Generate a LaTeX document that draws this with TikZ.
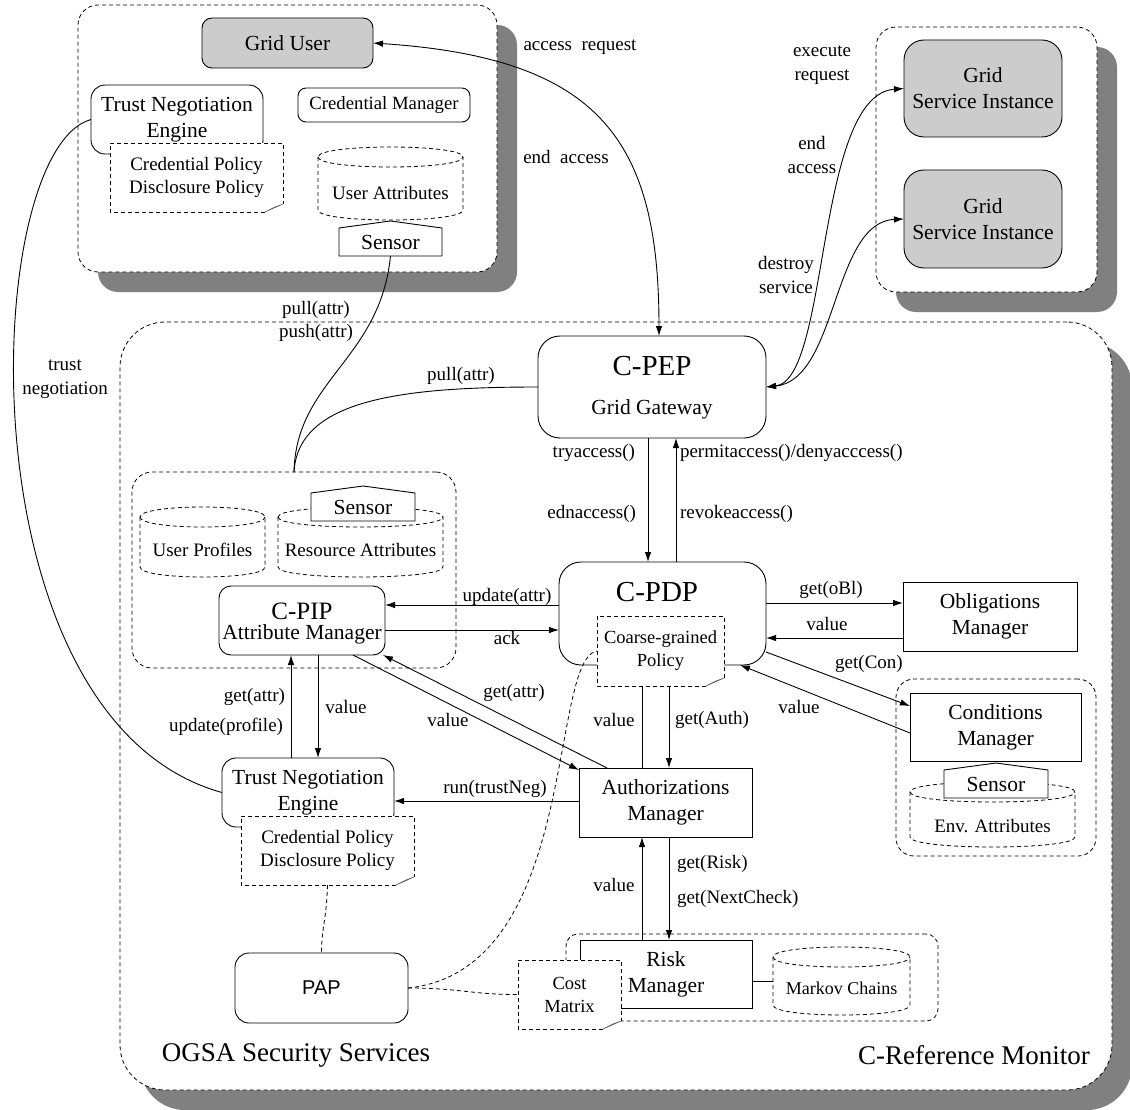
\documentclass[tikz,border=0pt]{standalone}
\usepackage{fontspec}
\setmainfont{Liberation Serif}
\newfontfamily\papfont{Liberation Sans}
\usetikzlibrary{arrows.meta}
\newcommand{\fBox}{\fontsize{21.5}{26}\selectfont}
\newcommand{\fLab}{\fontsize{19}{23.5}\selectfont}
\newcommand{\fSm}{\fontsize{18.5}{23}\selectfont}
\newcommand{\fBig}{\fontsize{29}{32}\selectfont}
\newcommand{\fPip}{\fontsize{25}{28}\selectfont}
\newcommand{\fTtl}{\fontsize{27}{30}\selectfont}
\newcommand{\fPap}{\papfont\fontsize{20}{24}\selectfont}
\tikzset{
 ln/.style={line width=0.9pt},
 dsh/.style={line width=0.8pt, dash pattern=on 4pt off 3pt},
 arr/.style={ln, -{Latex[length=10pt,width=6.5pt]}},
 darr/.style={ln, {Latex[length=10pt,width=6.5pt]}-{Latex[length=10pt,width=6.5pt]}},
 rbox/.style={draw, ln, fill=white, align=center, font=\fBox},
 sbox/.style={draw, ln, fill=white, align=center, font=\fBox},
 grp/.style={draw, dsh, fill=white},
 docn/.style={fill=white, align=center, font=\fLab},
 cyln/.style={},
 sensn/.style={fill=white, font=\fBox},
 lab/.style={font=\fLab, align=center},
 shd/.style={fill=black!50},
 fold/.style={fill=gray!45, draw=black!70, line width=0.5pt},
}
\newcommand{\docfold}[1]{%
 \draw[dsh] ([xshift=-18pt]#1.south east) -- (#1.south west) -- (#1.north west) -- (#1.north east) -- ([yshift=8pt]#1.south east);
 \filldraw[fold] ([xshift=-18pt]#1.south east) -- ([yshift=8pt]#1.south east) -- ([xshift=-8pt,yshift=5pt]#1.south east) -- cycle;}
\newcommand{\cylout}[2]{%
 \draw[dsh] ([yshift=-#2pt]#1.north west) -- ([yshift=#2pt]#1.south west) .. controls +(0,{1.333*#2}) and +(0,{1.333*#2}) .. ([yshift=#2pt]#1.south east) -- ([yshift=-#2pt]#1.north east) .. controls +(0,{-1.333*#2}) and +(0,{-1.333*#2}) .. ([yshift=-#2pt]#1.north west);
 \draw[dsh] ([yshift=-#2pt]#1.north west) .. controls +(0,{1.333*#2}) and +(0,{1.333*#2}) .. ([yshift=-#2pt]#1.north east);}
\newcommand{\sensout}[1]{%
 \draw[ln] (#1.south west) -- (#1.north west) -- ([yshift=7pt]#1.north) -- (#1.north east) -- (#1.south east) -- cycle;}
\begin{document}
\begin{tikzpicture}[x=1pt,y=-1pt, every node/.style={inner sep=0pt, outer sep=0pt}]
\useasboundingbox (0,0) rectangle (1130,1110);
\fill[white] (0,0) rectangle (1130,1110);
% shadows
\fill[shd, rounded corners=20pt] (98,25) rectangle (517,292);
\fill[shd, rounded corners=20pt] (896,47) rectangle (1117,312);
\fill[shd, rounded corners=45pt] (140,342) rectangle (1132,1110);
% containers
\node[grp, rounded corners=20pt, minimum width=419pt, minimum height=267pt] (userbox) at (287.5,138.5) {};
\node[grp, rounded corners=20pt, minimum width=221pt, minimum height=265pt] (svcbox) at (986.5,159.5) {};
\node[grp, rounded corners=45pt, minimum width=992pt, minimum height=768pt] (ogsa) at (616,706) {};
\node[grp, rounded corners=20pt, minimum width=324pt, minimum height=196pt] (pipg) at (294,570) {};
\node[grp, rounded corners=18pt, minimum width=200pt, minimum height=177pt] (condg) at (996,767.5) {};
\node[grp, rounded corners=12pt, minimum width=372pt, minimum height=87pt] (riskg) at (752,977.5) {};
% user side
\node[rbox, fill=gray!40, rounded corners=10pt, minimum width=171pt, minimum height=50pt] (gu) at (287.5,43) {Grid User};
\node[rbox, rounded corners=14pt, minimum width=172pt, minimum height=69pt] (tneA) at (177,119.5) {Trust Negotiation\\Engine};
\node[docn, minimum width=173pt, minimum height=69pt] (polA) at (196.5,177.5) {Credential Policy\\Disclosure Policy};
\docfold{polA}
\node[rbox, rounded corners=8pt, minimum width=172pt, minimum height=34pt, font=\fontsize{18.7}{22}\selectfont] (cm) at (384,105) {Credential Manager};
\node[cyln, minimum width=145pt, minimum height=73pt] (uaC) at (390.5,183.5) {};
\cylout{uaC}{10}
\node[font=\fLab] (ua) at (390.5,193) {User Attributes};
\node[sensn, minimum width=103pt, minimum height=28pt] (sensA) at (390.5,242) {Sensor};
\sensout{sensA}
% services
\node[rbox, fill=gray!40, rounded corners=20pt, minimum width=158pt, minimum height=97pt] (gsiA) at (983,88.5) {Grid\\Service Instance};
\node[rbox, fill=gray!40, rounded corners=20pt, minimum width=158pt, minimum height=98pt] (gsiB) at (983,219) {Grid\\Service Instance};
% PEP
\node[rbox, rounded corners=22pt, minimum width=228pt, minimum height=102pt] (pep) at (652,387) {};
\node[font=\fBig] (pepT) at (652,366) {C-PEP};
\node[font=\fBox] (pepG) at (652,409) {Grid Gateway};
% PDP
\node[rbox, rounded corners=22pt, minimum width=207pt, minimum height=103pt] (pdp) at (662.5,613.5) {};
\node[font=\fBig] (pdpT) at (657,592) {C-PDP};
\node[docn, font=\fSm, minimum width=127pt, minimum height=70pt] (cgp) at (660.5,651) {Coarse-grained\\Policy};
\docfold{cgp}
% PIP group
\node[cyln, minimum width=125pt, minimum height=70pt] (upC) at (202.5,542) {};
\cylout{upC}{10}
\node[font=\fLab] (up) at (202.5,550) {User Profiles};
\node[cyln, minimum width=165pt, minimum height=70pt] (raC) at (360.5,542) {};
\cylout{raC}{10}
\node[font=\fLab] (ra) at (360.5,550) {Resource Attributes};
\node[sensn, minimum width=104pt, minimum height=28pt] (sensB) at (363,507) {Sensor};
\sensout{sensB}
\node[rbox, rounded corners=12pt, minimum width=166pt, minimum height=69pt] (pip) at (302,620.5) {};
\node[font=\fPip] (pipT) at (302,611) {C-PIP};
\node[font=\fBox] (pipA) at (302,634) {Attribute Manager};
% obligations / conditions
\node[sbox, minimum width=174pt, minimum height=69pt] (ob) at (990,616.5) {Obligations\\Manager};
\node[sbox, minimum width=171pt, minimum height=68pt] (cond) at (995.5,727) {Conditions\\Manager};
\node[cyln, minimum width=165pt, minimum height=65pt] (envC) at (992.5,814.5) {};
\cylout{envC}{10}
\node[font=\fLab] (env) at (992.5,826) {Env. Attributes};
\node[sensn, minimum width=104pt, minimum height=28pt] (sensC) at (996,784) {Sensor};
\sensout{sensC}
% authorization, TNE, risk, PAP
\node[sbox, minimum width=173pt, minimum height=69pt] (auth) at (665.5,802.5) {Authorizations\\Manager};
\node[rbox, rounded corners=14pt, minimum width=172pt, minimum height=69pt] (tneB) at (308,792.5) {Trust Negotiation\\Engine};
\node[docn, minimum width=173pt, minimum height=69pt] (polB) at (327.5,850.5) {Credential Policy\\Disclosure Policy};
\docfold{polB}
\node[sbox, minimum width=172pt, minimum height=68pt] (risk) at (666,974) {Risk\\Manager};
\node[cyln, minimum width=137pt, minimum height=68pt] (mcC) at (841.5,981) {};
\cylout{mcC}{10}
\node[font=\fontsize{18}{22}\selectfont] (mc) at (841.5,988) {Markov Chains};
\node[docn, font=\fSm, minimum width=103pt, minimum height=69pt] (cost) at (569.5,994.5) {Cost\\Matrix};
\docfold{cost}
\node[rbox, rounded corners=14pt, minimum width=173pt, minimum height=70pt, font=\fPap] (pap) at (321.5,988) {PAP};
% connectors
\draw[darr] (gu.east) .. controls (600,58) and (659,140) .. ([xshift=7pt]pep.north);
\draw[darr] (pep.east) .. controls (830,380) and (815,95) .. (gsiA.west);
\draw[darr] (pep.east) .. controls (838,380) and (832,222) .. (gsiB.west);
\draw[arr] ([xshift=-4pt]pep.south) -- ([xshift=-14.5pt]pdp.north);
\draw[arr] ([xshift=13.5pt]pdp.north) -- ([xshift=24pt]pep.south);
\draw[arr] ([yshift=8.5pt]pdp.west) -- ([yshift=15.5pt]pip.east);
\draw[arr] ([yshift=-9.5pt]pip.east) -- ([yshift=-16.5pt]pdp.west);
\draw[arr] ([yshift=10.5pt]pdp.east) -- ([yshift=13.5pt]ob.west);
\draw[arr] ([yshift=-21.5pt]ob.west) -- ([yshift=-24.5pt]pdp.east);
\draw[arr] ([yshift=-38.5pt]pdp.east) -- ([yshift=21pt]cond.west);
\draw[arr] ([yshift=-6pt]cond.west) -- ([xshift=-26pt]pdp.south east);
\draw[ln] ([xshift=-23.5pt]auth.north) -- ([xshift=-18.5pt]cgp.south);
\draw[arr] ([xshift=8.5pt]cgp.south) -- ([xshift=3.5pt]auth.north);
\draw[arr] ([xshift=-58.5pt]auth.north) -- ([xshift=-2pt]pip.south east);
\draw[arr] ([xshift=51pt]pip.south) -- ([yshift=-2pt]auth.north west);
\draw[arr] ([xshift=-17pt]tneB.north) -- ([xshift=-11pt]pip.south);
\draw[arr] ([xshift=16pt]pip.south) -- ([xshift=10pt]tneB.north);
\draw[arr] ([yshift=1.5pt]auth.west) -- ([yshift=-8.5pt]tneB.east);
\draw[arr] ([xshift=-24pt]risk.north) -- ([xshift=-23.5pt]auth.south);
\draw[arr] ([xshift=3.5pt]auth.south) -- ([xshift=3pt]risk.north);
\draw[ln] ([yshift=-7pt]risk.east) -- (mcC.west);
\draw[dsh] (polB.south) .. controls +(-1,35) and +(0,-25) .. (pap.north);
\draw[dsh] (pap.east) .. controls (580,970) and (548,660) .. (cgp.west);
\draw[dsh] (pap.east) .. controls (460,988) and (470,994.5) .. (cost.west);
\draw[ln] (tneA.west) .. controls (-20,150) and (-40,720) .. (tneB.west);
\draw[ln] (sensA.south) .. controls (380,360) and (296,380) .. (pipg.north);
\draw[ln] (pipg.north) .. controls (298,400) and (400,387) .. (pep.west);
% labels
\node[lab] (lAcc) at (580,47) {access\ \ request};
\node[lab] (lEnd) at (566,157) {end\ \ access};
\node[lab] (lExe) at (822,65) {execute\\request};
\node[lab] (lEnd2) at (812,155) {end\\access};
\node[lab] (lDes) at (786,275) {destroy\\service};
\node[lab] (lPull1) at (316,310) {pull(attr)};
\node[lab] (lPush) at (316,333) {push(attr)};
\node[lab] (lTrust) at (65,379) {trust\\negotiation};
\node[lab] (lPull2) at (461,376) {pull(attr)};
\node[lab, anchor=east] (lTry) at (635,453) {tryaccess()};
\node[lab, anchor=east] (lEdn) at (636,514) {ednaccess()};
\node[lab, anchor=west] (lPer) at (680,453) {permitaccess()/denyacccess()};
\node[lab, anchor=west] (lRev) at (680,514) {revokeaccess()};
\node[lab] (lUpd) at (507,597) {update(attr)};
\node[lab] (lAck) at (507,638) {ack};
\node[lab] (lObl) at (831,590) {get(oBl)};
\node[lab] (lVal1) at (827,624) {value};
\node[lab] (lCon) at (869,664) {get(Con)};
\node[lab] (lVal2) at (799,707) {value};
\node[lab] (lGa1) at (514,693) {get(attr)};
\node[lab] (lVal3) at (448,720) {value};
\node[lab] (lVal4) at (614,720) {value};
\node[lab] (lAuth) at (712,720) {get(Auth)};
\node[lab, anchor=east] (lGa2) at (285,697) {get(attr)};
\node[lab, anchor=east] (lUpp) at (283,727) {update(profile)};
\node[lab] (lVal5) at (346,707) {value};
\node[lab] (lRun) at (495,789) {run(trustNeg)};
\node[lab] (lVal6) at (614,885) {value};
\node[lab, anchor=west] (lRisk) at (677,864) {get(Risk)};
\node[lab, anchor=west] (lNext) at (677,899) {get(NextCheck)};
\node[font=\fTtl] (tOgsa) at (296,1055) {OGSA Security Services};
\node[font=\fTtl] (tCrm) at (974,1055) {C-Reference Monitor};
\end{tikzpicture}
\end{document}
